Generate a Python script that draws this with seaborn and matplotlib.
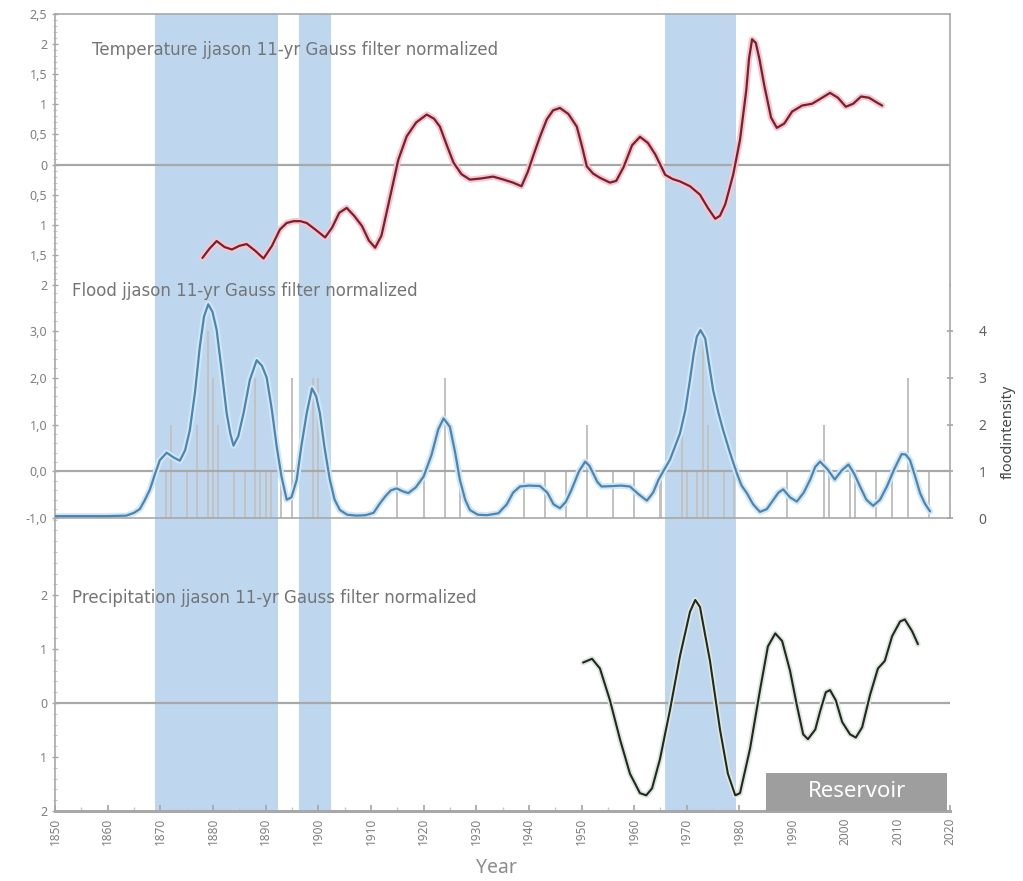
import matplotlib
matplotlib.use("Agg")
import matplotlib.pyplot as plt
import seaborn as sns
from matplotlib.ticker import MultipleLocator, FixedLocator, FuncFormatter
from matplotlib.patches import Rectangle

# ---- data -----------------------------------------------------------------
temp_years = [1878.0, 1879.3, 1880.7, 1882.2, 1883.6, 1885.0, 1886.4, 1888.0, 1889.6,
              1891.2, 1892.7, 1894.0, 1895.3, 1896.6, 1897.8, 1899.6, 1901.3, 1902.6,
              1904.0, 1905.4, 1906.8, 1908.3, 1909.6, 1910.8, 1912.0, 1913.6, 1915.2,
              1916.8, 1918.6, 1920.6, 1922.0, 1923.1, 1924.5, 1925.7, 1927.2, 1928.8,
              1931.0, 1933.2, 1935.2, 1937.0, 1938.6, 1939.8, 1940.8, 1942.1, 1943.4,
              1944.6, 1945.9, 1947.5, 1949.1, 1950.1, 1951.0, 1952.2, 1953.5, 1955.4,
              1956.6, 1958.0, 1959.6, 1961.1, 1962.6, 1964.0, 1965.9, 1967.3, 1968.7,
              1970.6, 1972.5, 1974.0, 1975.4, 1976.3, 1977.3, 1978.8, 1980.1, 1981.3,
              1981.8, 1982.4, 1983.1, 1983.8, 1984.7, 1986.0, 1987.1, 1988.5, 1990.0,
              1991.9, 1993.8, 1995.7, 1997.2, 1998.7, 2000.2, 2001.6, 2003.1, 2004.6,
              2006.1, 2007.1]
temp_values = [-1.55, -1.40, -1.27, -1.37, -1.41, -1.35, -1.32, -1.43, -1.56,
               -1.35, -1.08, -0.97, -0.94, -0.94, -0.97, -1.09, -1.21, -1.05,
               -0.80, -0.72, -0.85, -1.02, -1.26, -1.38, -1.18, -0.55, 0.08,
               0.47, 0.70, 0.83, 0.76, 0.63, 0.30, 0.03, -0.16, -0.25,
               -0.23, -0.20, -0.25, -0.30, -0.36, -0.12, 0.14, 0.46, 0.75,
               0.90, 0.94, 0.84, 0.63, 0.30, -0.03, -0.15, -0.22, -0.30,
               -0.27, -0.04, 0.32, 0.46, 0.36, 0.17, -0.17, -0.24, -0.28,
               -0.36, -0.50, -0.72, -0.90, -0.85, -0.66, -0.17, 0.41, 1.24,
               1.75, 2.08, 2.02, 1.75, 1.32, 0.78, 0.61, 0.68, 0.88,
               0.98, 1.01, 1.11, 1.19, 1.11, 0.96, 1.01, 1.13, 1.11,
               1.03, 0.98]

flood_years = [1850.0, 1855.0, 1860.0, 1863.5, 1865.0, 1866.1, 1867.0, 1868.0, 1869.0,
               1869.9, 1871.2, 1872.5, 1873.7, 1874.7, 1875.6, 1876.6, 1877.5, 1878.3,
               1879.1, 1879.9, 1880.7, 1881.7, 1882.6, 1883.3, 1883.9, 1884.8, 1885.8,
               1887.0, 1888.3, 1889.3, 1890.2, 1891.2, 1892.1, 1893.0, 1894.0, 1894.9,
               1895.9, 1896.8, 1897.8, 1898.8, 1899.6, 1900.3, 1901.2, 1902.2, 1903.1,
               1904.1, 1905.5, 1907.3, 1909.0, 1910.5, 1911.7, 1912.8, 1913.8, 1914.9,
               1916.0, 1917.1, 1918.5, 1920.0, 1921.5, 1922.8, 1923.8, 1925.0, 1926.0,
               1926.9, 1927.9, 1928.8, 1930.3, 1932.0, 1934.2, 1935.8, 1937.0, 1938.3,
               1940.0, 1942.1, 1943.5, 1944.7, 1945.9, 1947.0, 1948.1, 1949.5, 1950.7,
               1951.5, 1952.2, 1953.0, 1953.8, 1956.0, 1957.5, 1959.2, 1960.8, 1962.4,
               1963.6, 1964.6, 1965.5, 1966.8, 1968.0, 1968.7, 1969.7, 1970.6, 1971.3,
               1971.9, 1972.6, 1973.5, 1974.2, 1975.0, 1976.0, 1976.9, 1978.2, 1979.5,
               1980.4, 1981.4, 1982.6, 1983.9, 1985.2, 1986.4, 1987.4, 1988.3, 1989.6,
               1990.9, 1992.2, 1993.4, 1994.4, 1995.3, 1996.7, 1998.1, 1999.4, 2000.7,
               2001.8, 2002.9, 2004.1, 2005.4, 2006.7, 2008.0, 2009.4, 2010.8, 2011.6,
               2012.4, 2013.3, 2014.3, 2015.2, 2016.2]
flood_values = [-0.95, -0.95, -0.95, -0.94, -0.88, -0.80, -0.62, -0.39, -0.05,
                0.24, 0.40, 0.30, 0.23, 0.45, 0.88, 1.70, 2.66, 3.30,
                3.56, 3.40, 3.01, 2.10, 1.24, 0.80, 0.55, 0.75, 1.24,
                1.95, 2.37, 2.25, 2.00, 1.30, 0.53, -0.10, -0.60, -0.55,
                -0.18, 0.55, 1.24, 1.77, 1.60, 1.24, 0.50, -0.18, -0.60,
                -0.82, -0.92, -0.94, -0.93, -0.88, -0.68, -0.52, -0.40, -0.36,
                -0.42, -0.46, -0.34, -0.11, 0.35, 0.90, 1.13, 0.95, 0.40,
                -0.18, -0.60, -0.82, -0.92, -0.93, -0.89, -0.70, -0.45, -0.32,
                -0.30, -0.31, -0.45, -0.70, -0.78, -0.65, -0.39, 0.00, 0.21,
                0.12, -0.04, -0.22, -0.32, -0.31, -0.30, -0.32, -0.48, -0.62,
                -0.45, -0.18, 0.00, 0.25, 0.60, 0.81, 1.30, 1.95, 2.50,
                2.87, 3.01, 2.83, 2.30, 1.73, 1.25, 0.88, 0.40, -0.04,
                -0.30, -0.46, -0.70, -0.86, -0.80, -0.61, -0.45, -0.38, -0.55,
                -0.64, -0.45, -0.18, 0.10, 0.21, 0.05, -0.17, 0.02, 0.15,
                -0.05, -0.32, -0.60, -0.73, -0.60, -0.32, 0.05, 0.37, 0.36,
                0.24, -0.08, -0.46, -0.68, -0.85]

flood_event_years = [1871, 1872, 1875, 1877, 1879, 1880, 1881, 1884, 1886, 1888, 1889,
                     1890, 1891, 1893, 1895, 1899, 1900, 1915, 1920, 1924, 1927, 1939,
                     1943, 1947, 1951, 1956, 1960, 1965, 1969, 1970, 1972, 1973, 1974,
                     1977, 1979, 1989, 1996, 1997, 2001, 2002, 2006, 2009, 2012, 2016]
flood_intensity = [1, 2, 1, 2, 4, 3, 2, 1, 1, 3, 1,
                   1, 1, 1, 3, 3, 3, 1, 1, 3, 1, 1,
                   1, 1, 2, 1, 1, 1, 2, 1, 1, 4, 2,
                   1, 1, 1, 2, 1, 1, 1, 1, 1, 3, 1]

precip_years = [1950.3, 1952.0, 1953.5, 1955.4, 1957.3, 1959.2, 1961.1, 1962.3, 1963.4,
                1964.9, 1966.8, 1968.7, 1970.6, 1971.6, 1972.5, 1974.4, 1976.3, 1977.8,
                1979.2, 1980.1, 1982.0, 1983.9, 1985.4, 1986.8, 1988.1, 1989.6, 1990.9,
                1992.1, 1993.0, 1994.4, 1995.3, 1996.4, 1997.2, 1998.3, 1999.5, 2001.0,
                2002.1, 2003.3, 2004.8, 2006.3, 2007.6, 2009.0, 2010.5, 2011.4, 2012.8,
                2013.9]
precip_values = [0.75, 0.82, 0.64, 0.05, -0.67, -1.31, -1.67, -1.71, -1.58,
                 -1.04, -0.13, 0.87, 1.69, 1.91, 1.78, 0.78, -0.49, -1.31,
                 -1.71, -1.67, -0.85, 0.24, 1.05, 1.29, 1.15, 0.60, -0.04,
                 -0.58, -0.67, -0.49, -0.16, 0.20, 0.24, 0.05, -0.35, -0.58,
                 -0.64, -0.45, 0.15, 0.64, 0.78, 1.24, 1.51, 1.55, 1.33,
                 1.09]

period_starts = [1869.0, 1896.3, 1965.9]
period_ends = [1892.4, 1902.4, 1979.3]
reservoir_start, reservoir_end = 1985.0, 2019.5

# ---- styling ----------------------------------------------------------------
sns.set_theme(style="white")
plt.rcParams['font.family'] = ['Noto Sans', 'DejaVu Sans']

SPAN = '#bed7ef'
GRID = '#a8a8a8'
TICKTXT = '#7f7f7f'
TITLE = '#757575'

fig = plt.figure(figsize=(10.23, 8.81), dpi=100)
fig.patch.set_facecolor('white')
L, W = 0.0538, 0.8749
ax_t = fig.add_axes([L, 0.6765, W, 0.3076])
ax_m = fig.add_axes([L, 0.4115, W, 0.2650], sharex=ax_t)
ax_b = fig.add_axes([L, 0.0795, W, 0.3320], sharex=ax_t)
ax_r = ax_m.twinx()
ax_m.set_zorder(ax_r.get_zorder() + 1)
ax_m.patch.set_visible(False)

# shaded periods
for ax in (ax_t, ax_r, ax_b):
    for a, b in zip(period_starts, period_ends):
        ax.axvspan(a, b, color=SPAN, lw=0, zorder=0)

# zero lines
for ax in (ax_t, ax_m, ax_b):
    ax.axhline(0, color=GRID, lw=1.6, zorder=1)

# temperature
sns.lineplot(x=temp_years, y=temp_values, ax=ax_t, color='#f4c7cf', lw=4.5, zorder=2)
sns.lineplot(x=temp_years, y=temp_values, ax=ax_t, color='#7d1d2d', lw=1.6, zorder=3)

# flood intensity bars
sns.barplot(x=flood_event_years, y=flood_intensity, ax=ax_r, native_scale=True,
            width=0.4, color='#c2c2c2', saturation=1, errorbar=None,
            linewidth=0, zorder=1)

# flood curve
sns.lineplot(x=flood_years, y=flood_values, ax=ax_m, color='#d3e6f5', lw=4.5, zorder=2)
sns.lineplot(x=flood_years, y=flood_values, ax=ax_m, color='#4a86b0', lw=1.6, zorder=3)

# precipitation
sns.lineplot(x=precip_years, y=precip_values, ax=ax_b, color='#dfe6df', lw=4, zorder=2)
sns.lineplot(x=precip_years, y=precip_values, ax=ax_b, color='#1f2b1f', lw=1.5, zorder=3)

# reservoir marker
ax_b.add_patch(Rectangle((reservoir_start, -2.0), reservoir_end - reservoir_start, 0.70,
                         facecolor='#9e9e9e', edgecolor='none', zorder=4))
ax_b.text((reservoir_start + reservoir_end) / 2, -1.64, 'Reservoir', color='white',
          fontsize=16, ha='center', va='center', zorder=5)

# ---- axes -------------------------------------------------------------------
ax_t.set_xlim(1850, 2020)
ax_t.set_ylim(-2, 2.5)
ax_m.set_ylim(-1, 3.97)
ax_r.set_ylim(0, 4.97)
ax_b.set_ylim(-2, 3.42)


def abs_comma(v, _):
    s = f"{abs(v):g}"
    return s.replace('.', ',')


def one_decimal(v, _):
    return f"{v:.1f}".replace('.', ',').replace('\u2212', '-')


ax_t.yaxis.set_major_locator(MultipleLocator(0.5))
ax_t.yaxis.set_minor_locator(MultipleLocator(0.1))
ax_t.yaxis.set_major_formatter(FuncFormatter(abs_comma))

ax_m.yaxis.set_major_locator(FixedLocator([-1, 0, 1, 2, 3]))
ax_m.yaxis.set_minor_locator(MultipleLocator(0.2))
ax_m.yaxis.set_major_formatter(FuncFormatter(one_decimal))

ax_r.yaxis.set_major_locator(FixedLocator([0, 1, 2, 3, 4]))
ax_r.yaxis.set_major_formatter(FuncFormatter(lambda v, _: f"{v:.0f}"))

ax_b.yaxis.set_major_locator(FixedLocator([-2, -1, 0, 1, 2]))
ax_b.yaxis.set_minor_locator(MultipleLocator(0.2))
ax_b.yaxis.set_major_formatter(FuncFormatter(abs_comma))

ax_b.xaxis.set_major_locator(MultipleLocator(10))
ax_b.xaxis.set_minor_locator(MultipleLocator(5))

for ax in (ax_t, ax_m, ax_b, ax_r):
    ax.set_xlabel('')
    ax.set_ylabel('')
    for s in ax.spines.values():
        s.set_color(GRID)
        s.set_linewidth(1.2)

ax_t.spines['bottom'].set_visible(False)
ax_m.spines['top'].set_visible(False)
ax_m.spines['right'].set_visible(False)
for side in ('left', 'top', 'bottom'):
    ax_r.spines[side].set_visible(False)
ax_b.spines['top'].set_visible(False)
ax_b.spines['right'].set_visible(False)
ax_b.spines['bottom'].set_linewidth(2.2)

for ax in (ax_t, ax_m, ax_b):
    ax.tick_params(axis='y', which='major', left=True, length=5, width=1,
                   color=GRID, labelcolor=TICKTXT, labelsize=9, pad=3, direction='inout')
    ax.tick_params(axis='y', which='minor', left=True, length=3, width=0.8,
                   color='#c8c8c8', direction='inout')
ax_t.tick_params(axis='x', which='both', bottom=False, labelbottom=False)
ax_m.tick_params(axis='x', which='both', bottom=False, labelbottom=False)
ax_r.tick_params(axis='x', which='both', bottom=False, labelbottom=False)
ax_b.tick_params(axis='x', which='major', bottom=True, length=4, color=GRID,
                 labelcolor=TICKTXT, labelsize=8.5, labelrotation=90, pad=5, direction='in')
ax_b.tick_params(axis='x', which='minor', bottom=True, length=3, color='#c8c8c8',
                 direction='in')
ax_r.tick_params(axis='y', which='major', right=True, length=5, color=GRID,
                 labelcolor='#606060', labelsize=10, pad=18, direction='inout')

ax_r.set_ylabel('floodintensity', color='#454545', fontsize=10.5, rotation=90)
ax_r.yaxis.set_label_coords(1.057, 0.37)

# panel captions
CAP = dict(color=TITLE, fontsize=12, ha='left', va='center', family='DejaVu Sans')
fig.text(92 / 1023, 1 - 50 / 881, 'Temperature jjason 11-yr Gauss filter normalized', **CAP)
fig.text(72 / 1023, 1 - 291 / 881, 'Flood jjason 11-yr Gauss filter normalized', **CAP)
fig.text(72 / 1023, 1 - 598 / 881, 'Precipitation jjason 11-yr Gauss filter normalized', **CAP)
fig.text(497 / 1023, 1 - 868 / 881, 'Year', color='#8c8c8c', fontsize=14,
         ha='center', va='center')

fig.savefig('out.png', dpi=100, facecolor='white')
